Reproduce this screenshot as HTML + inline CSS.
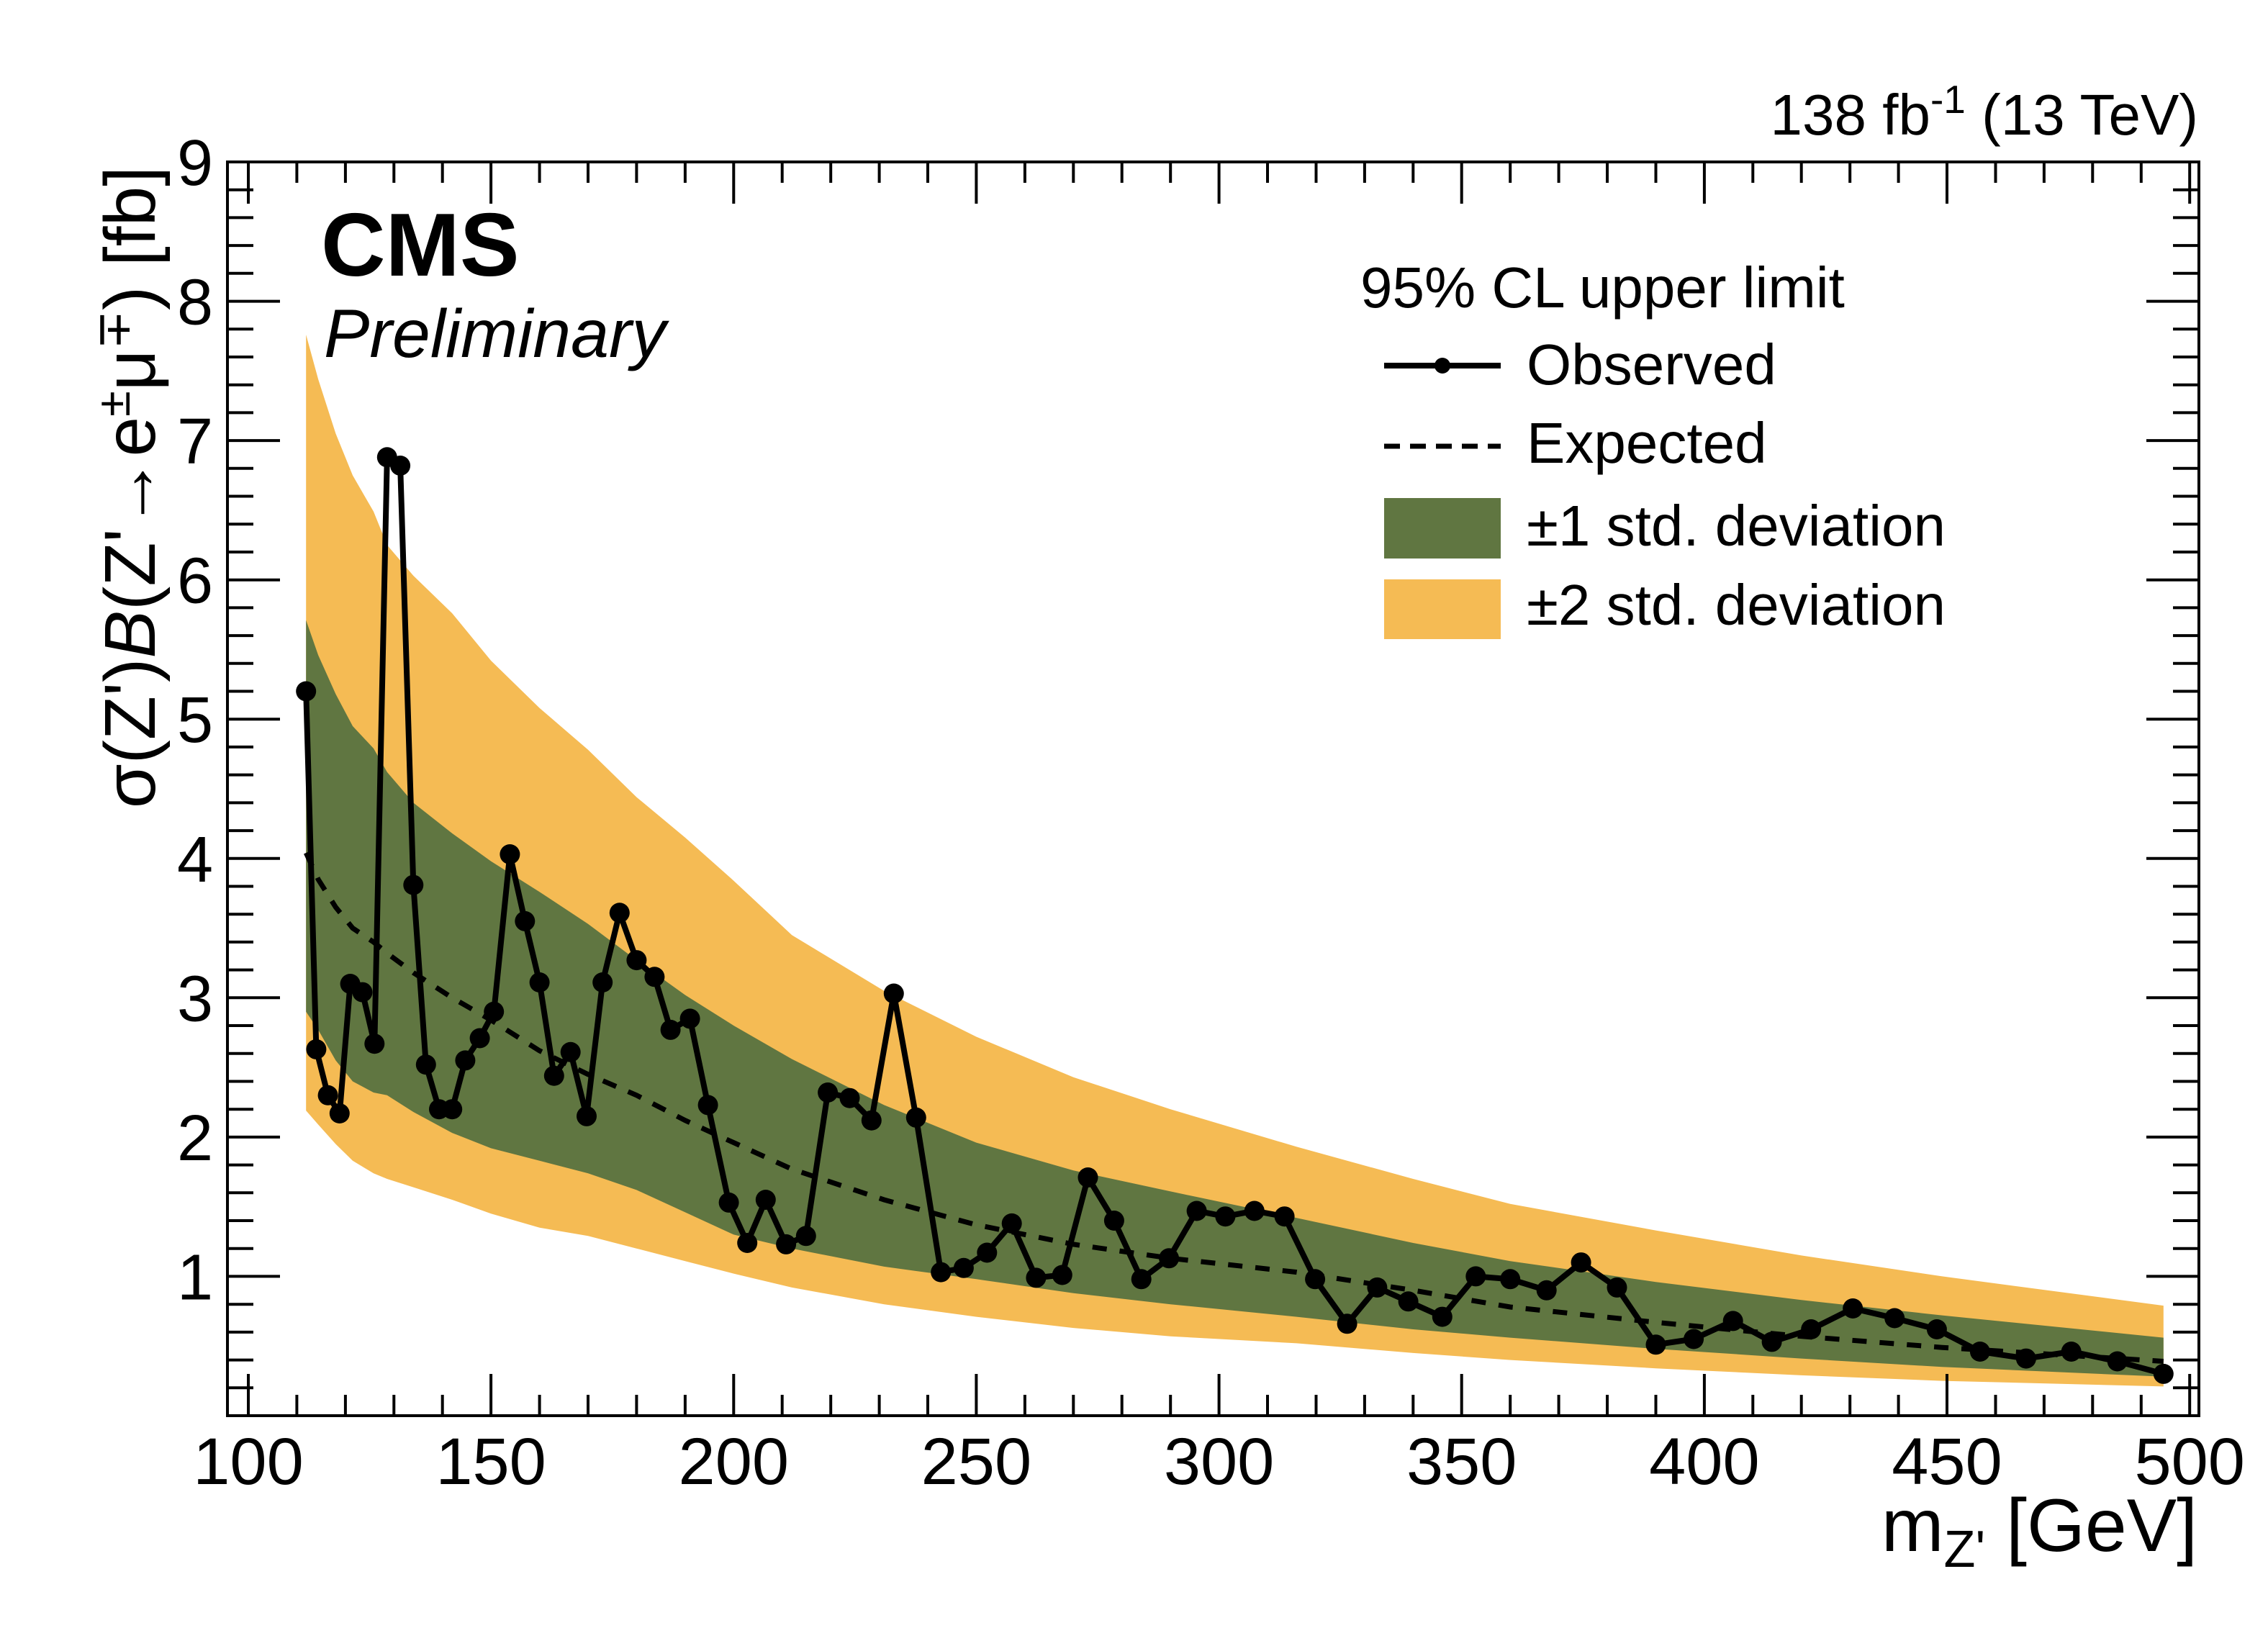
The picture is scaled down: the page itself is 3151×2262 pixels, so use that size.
<!DOCTYPE html>
<html><head><meta charset="utf-8"><style>
html,body{margin:0;padding:0;background:#fff;}
svg{display:block;font-family:"Liberation Sans",sans-serif;}
</style></head><body>
<svg id="chart" width="3151" height="2262" viewBox="0 0 3151 2262" xmlns="http://www.w3.org/2000/svg">
<g id="bands"></g>
<g id="series"></g>
<g id="axes"></g>
<text x="446" y="383" font-size="124" font-weight="bold">CMS</text>
<text x="450" y="496" font-size="95" font-style="italic">Preliminary</text>
<text x="3054" y="187" font-size="80" text-anchor="end">138 fb<tspan dy="-30" font-size="55">-1</tspan><tspan dy="30"> (13 TeV)</tspan></text>
<text x="3053" y="2155" font-size="104" text-anchor="end">m<tspan dy="22" font-size="72">Z'</tspan><tspan dy="-22"> [GeV]</tspan></text>
<text transform="translate(215,231) rotate(-90)" font-size="100" text-anchor="end">σ(Z')<tspan font-style="italic">B</tspan>(Z'→e<tspan dy="-35" font-size="65">±</tspan><tspan dy="35">μ</tspan><tspan dy="-35" font-size="65">∓</tspan><tspan dy="35">) [fb]</tspan></text>
<g>
<text x="1890" y="427" font-size="80">95% CL upper limit</text>
<line x1="1923" y1="508" x2="2085" y2="508" stroke="#000" stroke-width="8"/>
<circle cx="2004" cy="508" r="11"/>
<text x="2121" y="534" font-size="80">Observed</text>
<line x1="1923" y1="620" x2="2085" y2="620" stroke="#000" stroke-width="7" stroke-dasharray="22 14"/>
<text x="2121" y="643" font-size="80">Expected</text>
<rect x="1923" y="692" width="162" height="84" fill="#607641"/>
<text x="2121" y="758" font-size="80">±1 std. deviation</text>
<rect x="1923" y="805" width="162" height="83" fill="#F5BB54"/>
<text x="2121" y="868" font-size="80">±2 std. deviation</text>
</g>
</svg>
<script>
const obsMass = [111.9,114,116.4,118.8,121,123.5,126,128.6,131.3,134,136.6,139.3,142,144.7,147.7,150.6,153.9,157,160,163,166.4,169.7,173,176.5,180,183.7,187,191,194.7,199,202.8,206.6,210.8,214.9,219.4,223.9,228.4,233,237.6,242.7,247.4,252.2,257.3,262.3,267.7,273,278.4,284,289.7,295.4,301.3,307.3,313.5,319.8,326.4,332.6,339,346,352.9,360,367.5,374.6,382,390,397.8,405.9,413.9,422,430.6,439.2,447.9,456.8,466.3,475.6,485.1,494.6];
const obsLimit = [5.20,2.63,2.30,2.17,3.10,3.04,2.67,6.88,6.82,3.81,2.52,2.20,2.20,2.55,2.71,2.90,4.03,3.55,3.11,2.44,2.61,2.15,3.11,3.61,3.27,3.15,2.77,2.85,2.23,1.53,1.24,1.55,1.23,1.29,2.32,2.28,2.12,3.03,2.14,1.03,1.06,1.17,1.38,0.99,1.01,1.71,1.40,0.98,1.13,1.47,1.43,1.47,1.43,0.98,0.66,0.92,0.82,0.71,1.00,0.98,0.90,1.10,0.92,0.51,0.55,0.68,0.53,0.62,0.77,0.70,0.62,0.46,0.41,0.46,0.39,0.30];
const bandMass = [111.9,114.4,118,121.5,125.8,128.6,134,142,150,160,170,180,190,200,212,231,250,270,290,316,340,360,390,420,449,494.6];
const expLimit = [4.04,3.85,3.65,3.50,3.40,3.32,3.18,3.00,2.84,2.62,2.45,2.30,2.12,1.96,1.77,1.55,1.37,1.23,1.13,1.03,0.90,0.78,0.67,0.57,0.49,0.39];
const up2 = [7.76,7.44,7.05,6.75,6.49,6.25,6.03,5.76,5.42,5.08,4.78,4.44,4.15,3.84,3.45,3.05,2.72,2.43,2.20,1.93,1.70,1.52,1.33,1.15,1.00,0.79];
const up1 = [5.71,5.46,5.18,4.95,4.79,4.62,4.40,4.18,3.98,3.76,3.53,3.27,3.02,2.80,2.56,2.23,1.96,1.76,1.61,1.42,1.24,1.11,0.96,0.83,0.72,0.56];
const lo1 = [2.90,2.77,2.55,2.40,2.32,2.30,2.18,2.03,1.92,1.83,1.74,1.62,1.46,1.30,1.20,1.07,0.98,0.88,0.80,0.71,0.62,0.56,0.48,0.41,0.35,0.28];
const lo2 = [2.19,2.09,1.95,1.83,1.74,1.70,1.64,1.55,1.45,1.35,1.29,1.20,1.11,1.02,0.92,0.80,0.71,0.63,0.57,0.52,0.45,0.40,0.34,0.29,0.25,0.21];
const xTicks = [100,150,200,250,300,350,400,450,500];
const yTicks = [1,2,3,4,5,6,7,8,9];

const NS = "http://www.w3.org/2000/svg";
const L = 316, R = 3055, T = 225, B = 1967;
const xMin = 95.7, xMax = 501.9, yMin = 0, yMax = 9;
function X(v){ return L + (v - xMin) / (xMax - xMin) * (R - L); }
function Y(v){ return B - (v - yMin) / (yMax - yMin) * (B - T); }
function mk(tag, attrs, parent){ const e = document.createElementNS(NS, tag); for (const k in attrs) e.setAttribute(k, attrs[k]); parent.appendChild(e); return e; }

const bands = document.getElementById('bands');
function bandPath(hi, lo){
  let d = '';
  for (let i = 0; i < bandMass.length; i++) d += (i ? 'L' : 'M') + X(bandMass[i]).toFixed(1) + ',' + Y(hi[i]).toFixed(1);
  for (let i = bandMass.length - 1; i >= 0; i--) d += 'L' + X(bandMass[i]).toFixed(1) + ',' + Y(lo[i]).toFixed(1);
  return d + 'Z';
}
const b2 = mk('path', {d: bandPath(up2, lo2), fill: '#F5BB54'}, bands);


const b1 = mk('path', {d: bandPath(up1, lo1), fill: '#607641'}, bands);



const series = document.getElementById('series');
const expPts = bandMass.map((m, i) => X(m).toFixed(1) + ',' + Y(expLimit[i]).toFixed(1)).join(' ');
const expLine = mk('polyline', {points: expPts, fill: 'none', stroke: '#000', 'stroke-width': 7, 'stroke-dasharray': '20 18'}, series);


const obsPts = obsMass.map((m, i) => X(m).toFixed(1) + ',' + Y(obsLimit[i]).toFixed(1)).join(' ');
const obsLine = mk('polyline', {points: obsPts, fill: 'none', stroke: '#000', 'stroke-width': 8, 'stroke-linejoin': 'miter'}, series);


for (let i = 0; i < obsMass.length; i++) {
  const c = mk('circle', {cx: X(obsMass[i]).toFixed(1), cy: Y(obsLimit[i]).toFixed(1), r: 14, fill: '#000'}, series);
  
  
}

const axes = document.getElementById('axes');
const frame = mk('rect', {x: L, y: T, width: R - L, height: B - T, fill: 'none', stroke: '#000', 'stroke-width': 4}, axes);


let td = '';
for (let v = 100; v <= 500; v += 10) {
  const major = v % 50 === 0; const len = major ? 58 : 29; const x = X(v).toFixed(1);
  td += 'M' + x + ',' + B + 'V' + (B - len) + 'M' + x + ',' + T + 'V' + (T + len);
}
for (let k = 1; k <= 45; k++) {
  const v = k * 0.2; const major = k % 5 === 0; const len = major ? 73 : 36; const y = Y(v).toFixed(1);
  td += 'M' + L + ',' + y + 'H' + (L + len) + 'M' + R + ',' + y + 'H' + (R - len);
}
const ticks = mk('path', {d: td, stroke: '#000', 'stroke-width': 4, fill: 'none'}, axes);


for (const v of xTicks) {
  const t = mk('text', {x: X(v).toFixed(1), y: 2062, 'font-size': 92, 'text-anchor': 'middle'}, axes);
  t.textContent = String(v);
  
  
}
for (const v of yTicks) {
  const t = mk('text', {x: 296, y: (Y(v) + 32).toFixed(1), 'font-size': 90, 'text-anchor': 'end'}, axes);
  t.textContent = String(v);
  
  
}
</script>
</body></html>
